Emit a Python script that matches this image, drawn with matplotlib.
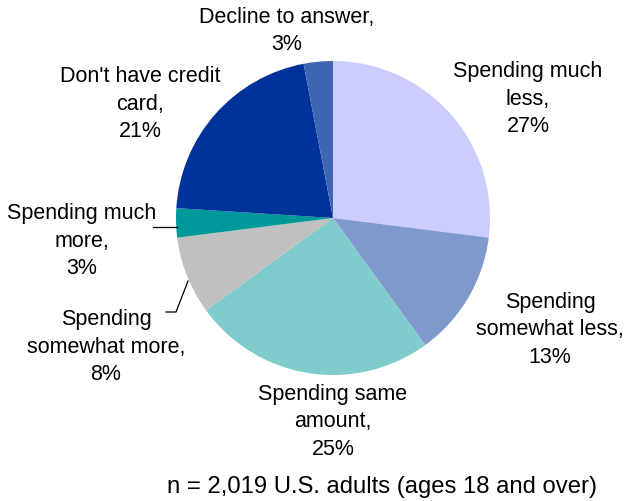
import matplotlib.pyplot as plt

plt.rcParams['font.family'] = ['Liberation Sans', 'DejaVu Sans']

categories = ["Spending much\nless", "Spending\nsomewhat less", "Spending same\namount",
              "Spending\nsomewhat more", "Spending much\nmore", "Don't have credit\ncard",
              "Decline to answer"]
shares = [27, 13, 25, 8, 3, 21, 3]
colors = ["#CCCCFF", "#7F99CC", "#80CCCC", "#C0C0C0", "#009999", "#003399", "#3F66B3"]

# label centres in pixels (x from left, y from top)
label_pos = [(528, 99), (550, 330), (333, 422), (106, 347), (82, 241), (140, 104), (287, 31)]

W, H = 628, 502
cx, cy, r = 333, 219, 157

fig = plt.figure(figsize=(W / 100, H / 100), dpi=100)
ax = fig.add_axes([(cx - r) / W, (H - cy - r) / H, 2 * r / W, 2 * r / H])
ax.pie(shares, colors=colors, startangle=90, counterclock=False, radius=1,
       wedgeprops=dict(linewidth=0))
ax.set_xlim(-1, 1)
ax.set_ylim(-1, 1)
ax.set_aspect('equal')
ax.axis('off')


def to_data(px, py):
    return (px - cx) / r, (cy - py) / r


for name, val, (px, py) in zip(categories, shares, label_pos):
    x, y = to_data(px, py)
    ax.text(x, y, f"{name},\n{val}%", ha='center', va='center', fontsize=15.5,
            linespacing=1.4, clip_on=False)

# leader lines for the two small slices on the left
xs, ys = zip(*[to_data(153, 228), to_data(177, 228)])
ax.plot(xs, ys, color='black', lw=0.9, clip_on=False)
xs, ys = zip(*[to_data(188, 282), to_data(176, 313), to_data(166, 313)])
ax.plot(xs, ys, color='black', lw=0.9, clip_on=False)

fig.text(382 / W, 1 - 487 / H, "n = 2,019 U.S. adults (ages 18 and over)",
         ha='center', va='center', fontsize=17.2)

fig.savefig("out.png", dpi=100)
